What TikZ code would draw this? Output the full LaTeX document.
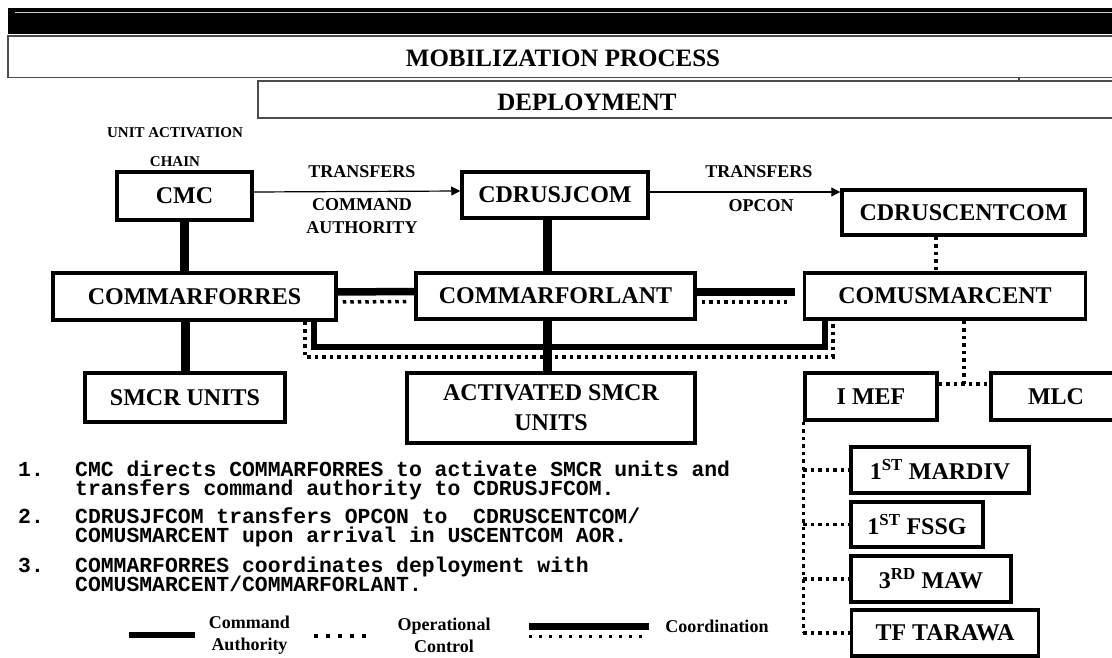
\documentclass[tikz,border=0pt]{standalone}
\usepackage{fontspec}
\setmainfont{Liberation Serif}
\setmonofont{Liberation Mono}
\usetikzlibrary{arrows.meta}

\begin{document}
\begin{tikzpicture}[x=1pt,y=-1pt,
    unit/.style={draw,line width=3.5pt,inner sep=0pt,align=center,
      font=\fontsize{24}{30}\selectfont\bfseries},
    lbl/.style={inner sep=0pt,align=center,font=\fontsize{18}{23}\selectfont\bfseries},
    head/.style={inner sep=0pt,font=\fontsize{25}{30}\selectfont\bfseries},
    band/.style={draw=black!70,line width=1.3pt},
    cmdline/.style={line width=9pt},
    opline/.style={line width=3.5pt,dash pattern=on 3.5pt off 4pt},
    coordline/.style={line width=7.5pt},
    transfer/.style={line width=1.2pt,-{Triangle[length=9pt,width=9pt]}},
    note/.style={inner sep=0pt,anchor=base west,align=left,
      execute at begin node={\lineskiplimit=-20pt\relax},
      font=\fontsize{21.4}{19.5}\selectfont\ttfamily\bfseries}]
\useasboundingbox (0,0) rectangle (1112,658);

% title bands
\fill (8,8) rectangle (1120,34);
\draw[white!80!black,line width=1.2pt] (15,12.5) -- (1120,12.5);
\draw[band] (8,36) rectangle (1120,77.5);
\draw[band] (258,81) rectangle (1120,118);
\draw[band] (1019,77) -- (1019,81);
\node[head] (mob) at (563,58.5) {MOBILIZATION PROCESS};
\node[head] (dep) at (587,102.5) {DEPLOYMENT};

\node[inner sep=0pt,font=\fontsize{15}{18}\selectfont\bfseries] (chain1) at (175,133) {UNIT ACTIVATION};
\node[inner sep=0pt,font=\fontsize{15}{18}\selectfont\bfseries] (chain2) at (175,162) {CHAIN};

% units
\node[unit,minimum width=135pt,minimum height=48pt] (cmc) at (184.5,196) {CMC};
\node[unit,minimum width=186pt,minimum height=46pt] (jcom) at (555,195) {CDRUSJCOM};
\node[unit,minimum width=243pt,minimum height=45pt] (cent) at (963.5,212.5) {CDRUSCENTCOM};
\node[unit,minimum width=283pt,minimum height=47pt] (frs) at (194.5,296.5) {COMMARFORRES};
\node[unit,minimum width=279pt,minimum height=46pt] (flant) at (555.5,296) {COMMARFORLANT};
\node[unit,minimum width=281pt,minimum height=46pt] (musm) at (945,296) {COMUSMARCENT};
\node[unit,minimum width=200pt,minimum height=49pt] (smcr) at (185,397.5) {SMCR UNITS};
\node[unit,minimum width=288pt,minimum height=70pt] (act) at (551,408) {ACTIVATED SMCR\\UNITS};
\node[unit,minimum width=132pt,minimum height=47pt] (imef) at (871,396.5) {I MEF};
\node[unit,minimum width=130pt,minimum height=47pt] (mlc) at (1056,396.5) {MLC};
\node[unit,minimum width=178pt,minimum height=46pt] (mardiv) at (940,470) {1\textsuperscript{ST} MARDIV};
\node[unit,minimum width=132pt,minimum height=45pt] (fssg) at (917,524.5) {1\textsuperscript{ST} FSSG};
\node[unit,minimum width=160pt,minimum height=46pt] (maw) at (931,579) {3\textsuperscript{RD} MAW};
\node[unit,minimum width=187pt,minimum height=46pt] (tarawa) at (945,633) {TF TARAWA};

% transfers
\path[transfer] ([yshift=4pt]cmc.east) edge ([yshift=4pt]jcom.west);
\path[transfer] ([yshift=3pt]jcom.east) edge ([yshift=3pt]jcom.east -| cent.west);
\node[lbl] (tr1) at (362,172) {TRANSFERS};
\node[lbl] (ca) at (362,216.5) {COMMAND\\AUTHORITY};
\node[lbl] (tr2) at (759,172) {TRANSFERS};
\node[lbl] (op) at (761,206) {OPCON};

% command authority
\draw[cmdline] (cmc.south) -- (cmc.south |- frs.north);
\draw[cmdline] (smcr.north |- frs.south) -- (smcr.north);
\coordinate (jcol) at (547,0);
\draw[cmdline] (jcom.south -| jcol) -- (flant.north -| jcol);
\draw[cmdline] (flant.south -| jcol) -- (act.north -| jcol);

% coordination
\draw[coordline] ([yshift=4.5pt]frs.east) -- ([yshift=4.5pt]flant.west);
\draw[opline] ([xshift=5pt,yshift=-5.5pt]frs.east) -- ([xshift=-7pt,yshift=-5.5pt]flant.west);
\draw[coordline] ([yshift=4pt]flant.east) -- ([xshift=-7.5pt,yshift=4pt]musm.west);
\draw[opline] ([xshift=5pt,yshift=-6pt]flant.east) -- ([xshift=-16pt,yshift=-6pt]musm.west);
\coordinate (brl) at (314,347);
\coordinate (brr) at (825,347);
\draw[coordline,line width=5.5pt] (frs.south -| brl) -- (brl) -- (brr) -- (musm.south -| brr);
\coordinate (obl) at (305,357);
\coordinate (obr) at (833,357);
\draw[opline] (frs.south -| obl) -- (obl) -- (obr) -- (musm.south -| obr);

% operational control
\coordinate (cdrop) at (936,0);
\draw[opline] (cent.south -| cdrop) -- (musm.north -| cdrop);
\coordinate (hub) at (964,384);
\draw[opline] (musm.south -| hub) -- (hub);
\draw[opline] (imef.east |- hub) -- (mlc.west |- hub);
\draw[opline] (imef.south west) -- (imef.south west |- tarawa.west);
\draw[opline] (imef.south west |- mardiv.west) -- (mardiv.west);
\draw[opline] (imef.south west |- fssg.west) -- (fssg.west);
\draw[opline] (imef.south west |- maw.west) -- (maw.west);
\draw[opline] (imef.south west |- tarawa.west) -- (tarawa.west);

% notes (base = last line)
\node[note] (k1) at (18,476) {1.};
\node[note] (n1) at (75,495.5) {CMC directs COMMARFORRES to activate SMCR units and\\transfers command authority to CDRUSJFCOM.};
\node[note] (k2) at (18,523) {2.};
\node[note] (n2) at (75,542.5) {CDRUSJFCOM transfers OPCON to\ \ CDRUSCENTCOM/\\COMUSMARCENT upon arrival in USCENTCOM AOR.};
\node[note] (k3) at (18,572) {3.};
\node[note] (n3) at (75,591.5) {COMMARFORRES coordinates deployment with\\COMUSMARCENT/COMMARFORLANT.};

% legend
\coordinate (lga) at (129,635);
\coordinate (lgb) at (195,635);
\draw[cmdline,line width=6.5pt] (lga) -- (lgb);
\node[lbl,font=\fontsize{18}{22}\selectfont\bfseries] (lgca) at (249.5,635) {Command\\Authority};
\coordinate (lgc) at (314,636);
\coordinate (lgd) at (368,636);
\draw[opline,dash pattern=on 4pt off 8pt] (lgc) -- (lgd);
\node[lbl,font=\fontsize{18}{22}\selectfont\bfseries] (lgoc) at (444,635) {Operational\\Control};
\coordinate (lge) at (529,626);
\coordinate (lgf) at (649,626);
\draw[coordline,line width=7pt] (lge) -- (lgf);
\draw[opline,line width=3pt,dash pattern=on 3pt off 7pt] ([yshift=-10pt]lge) -- ([yshift=-10pt]lgf);
\node[lbl] (lgco) at (717,626) {Coordination};
\end{tikzpicture}
\end{document}
